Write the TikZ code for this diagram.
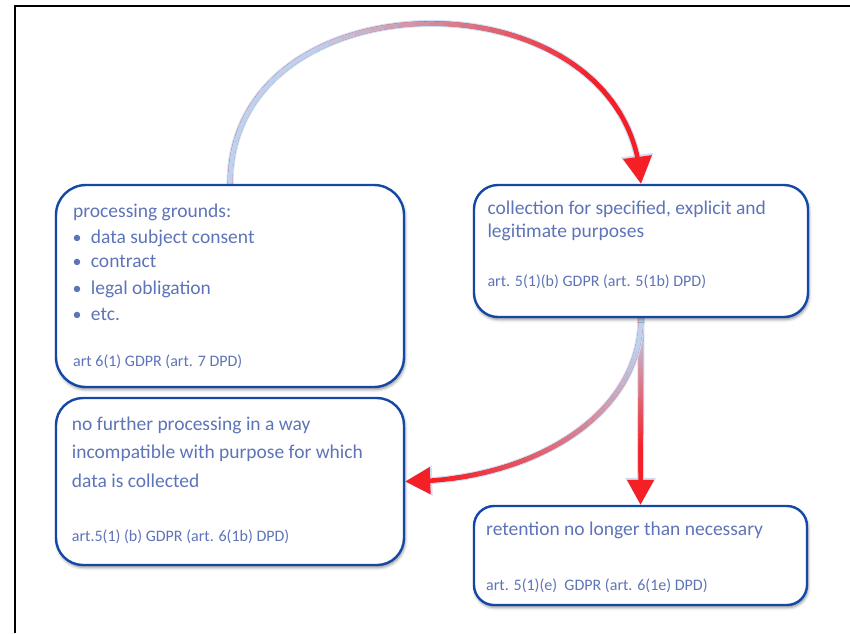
\documentclass[tikz,border=0pt]{standalone}
\usepackage{fontspec}
\setmainfont{Carlito}
\usetikzlibrary{arrows.meta,bending,shadows.blur,backgrounds}

\definecolor{boxblue}{RGB}{20,72,165}
\definecolor{txtblue}{RGB}{94,116,184}
\definecolor{arrred}{RGB}{245,32,38}
\definecolor{arrblue}{RGB}{188,210,238}
\definecolor{halo}{RGB}{208,222,243}

\tikzset{
  box/.style={draw=boxblue, line width=2.4pt, fill=white, inner sep=0pt,
    blur shadow={shadow xshift=1pt, shadow yshift=-2.5pt,
                 shadow blur radius=3pt, shadow opacity=45}},
  maintext/.style={anchor=base west, inner sep=0pt, text=txtblue,
    font=\fontsize{19.5}{23}\selectfont},
  reftext/.style={anchor=base west, inner sep=0pt, text=txtblue,
    font=\fontsize{16}{19}\selectfont},
  bullet/.style={anchor=base, inner sep=0pt, text=txtblue,
    font=\fontsize{18}{22}\selectfont},
  frameline/.style={line width=2pt, black},
  halostroke/.style={draw=halo, line width=7pt},
  redstroke/.style={draw=arrred, line width=4.6pt},
  gradseg/.style={line width=4.6pt, line cap=round},
}

% Connector with a colour ramp from light blue to red.
% #1 prefix, #2 path, #3 ramp start, #4 ramp end, #5 last segment index (of 40)
% #6 tip length, #7 tip width
\newcommand\rampconnector[7]{%
  \foreach \i in {0,...,40}{\path #2 coordinate[pos=\i/40] (#1\i);}
  \draw[halostroke, -{Triangle[length=#6+2pt,width=#7+3pt]}] #2;
  \draw[redstroke, -{Triangle[length=#6,width=#7]}] #2;
  \foreach \i in {1,...,#5}{%
    \pgfmathtruncatemacro\k{\i-1}%
    \pgfmathtruncatemacro\m{max(0,min(100,((\i-0.5)/40-#3)/(#4-#3)*100))}%
    \draw[gradseg, color=arrred!\m!arrblue] (#1\k) -- (#1\i);
  }%
}

\begin{document}
\begin{tikzpicture}[x=1pt,y=-1pt]
\useasboundingbox (0,0) rectangle (850,633);
\draw[frameline] (15,633) -- (15,6) -- (850,6);

% boxes
\node[box, minimum width=348pt, minimum height=202pt, rounded corners=30pt] (A) at (230,286) {};
\node[box, minimum width=334pt, minimum height=132pt, rounded corners=24pt] (B) at (641,251) {};
\node[box, minimum width=348pt, minimum height=167pt, rounded corners=27pt] (C) at (230,481.5) {};
\node[box, minimum width=333pt, minimum height=99pt, rounded corners=20pt] (D) at (640.5,555.5) {};

% texts of box A
\node[maintext] (a1) at (73,217) {processing grounds:};
\node[bullet] (ab1) at (77,243.3) {•};
\node[maintext] (a2) at (90.7,243.3) {data subject consent};
\node[bullet] (ab2) at (77,267.3) {•};
\node[maintext] (a3) at (90.7,267.3) {contract};
\node[bullet] (ab3) at (77,294.3) {•};
\node[maintext] (a4) at (90.7,294.3) {legal obligation};
\node[bullet] (ab4) at (77,320) {•};
\node[maintext] (a5) at (90.7,320) {etc.};
\node[reftext] (ar) at (73,366.7) {art 6(1) GDPR (art. 7 DPD)};

% texts of box B
\node[maintext] (b1) at (487.3,214) {collection for specified, explicit and};
\node[maintext] (b2) at (487.3,237.3) {legitimate purposes};
\node[reftext] (br) at (487.3,286) {art. 5(1)(b) GDPR (art. 5(1b) DPD)};

% texts of box C
\node[maintext] (c1) at (71.7,430.7) {no further processing in a way};
\node[maintext] (c2) at (71.7,458.3) {incompatible with purpose for which};
\node[maintext] (c3) at (71.7,487.3) {data is collected};
\node[reftext] (cr) at (71.7,541.7) {art.5(1) (b) GDPR (art. 6(1b) DPD)};

% texts of box D
\node[maintext] (d1) at (486,535.7) {retention no longer than necessary};
\node[reftext] (dr) at (486,590.7) {art. 5(1)(e)\ \ GDPR (art. 6(1e) DPD)};

% connectors
\begin{scope}[on background layer]
  \rampconnector{p}{(A.north) .. controls (230,-30) and (630,-30) .. (B.north)}{0.3}{0.8}{35}{27pt}{28pt}
  \rampconnector{q}{(B.south) -- (D.north)}{0.05}{0.7}{33}{25pt}{26pt}
  \rampconnector{r}{(B.south) .. controls (640,420) and (525,482) .. (C.east)}{0.1}{0.9}{35}{25pt}{26pt}
\end{scope}
\end{tikzpicture}
\end{document}
